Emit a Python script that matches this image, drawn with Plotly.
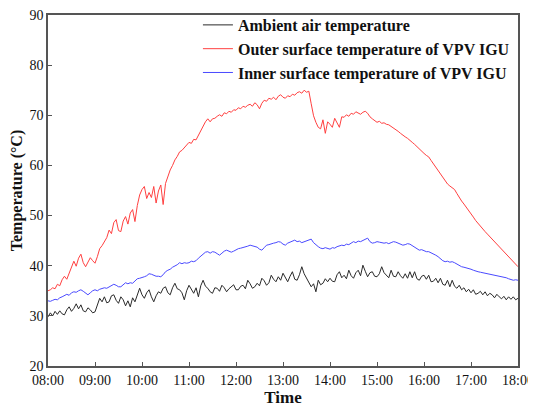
import plotly.graph_objects as go

# time in minutes after 08:00, every 3 minutes
minutes = list(range(0, 601, 3))
tick_minutes = [0, 60, 120, 180, 240, 300, 360, 420, 480, 540, 600]
tick_labels = ["08:00", "09:00", "10:00", "11:00", "12:00", "13:00",
               "14:00", "15:00", "16:00", "17:00", "18:00"]
y_ticks = [20, 30, 40, 50, 60, 70, 80, 90]

ambient = [
    29.8, 30.6, 30.0, 30.9, 30.3, 31.0, 30.4, 30.2, 31.2, 31.8,
    30.9, 31.5, 32.4, 31.4, 32.2, 31.0, 30.8, 31.6, 31.2, 30.6,
    30.8, 32.2, 33.5, 32.8, 33.8, 32.6, 32.8, 34.0, 34.2, 33.1,
    32.5, 33.8, 33.2, 32.0, 33.0, 31.8, 33.6, 32.8, 34.4, 35.5,
    34.2, 33.5, 34.6, 35.2, 33.8, 32.8, 34.0, 34.8, 34.5, 35.5,
    35.8, 34.6, 34.2, 35.6, 36.5, 35.4, 35.2, 34.6, 33.2, 35.0,
    36.1, 35.3, 34.5, 35.6, 33.8, 36.0, 37.1, 35.9, 35.5, 34.8,
    34.5, 35.6, 35.5, 34.9, 36.1, 35.6, 34.8, 35.4, 35.8, 36.2,
    35.2, 35.2, 35.9, 36.1, 35.4, 37.1, 36.4, 35.5, 35.8, 36.5,
    36.0, 37.5, 37.0, 36.1, 36.6, 38.1, 37.3, 36.8, 37.8, 37.1,
    38.5, 37.6, 36.8, 37.9, 38.8, 37.3, 37.1, 38.2, 39.8, 38.4,
    37.5, 36.9, 35.8, 36.4, 34.8, 37.1, 36.2, 36.5, 37.4, 36.8,
    37.5, 36.9, 36.8, 38.2, 38.8, 37.6, 38.1, 37.4, 39.1, 38.0,
    37.5, 38.6, 39.1, 38.0, 40.1, 38.9, 37.8, 38.6, 38.8, 37.9,
    37.8, 38.4, 39.8, 38.6, 38.1, 37.6, 39.1, 37.9, 37.8, 38.8,
    38.0, 37.5, 38.4, 37.5, 38.8, 37.6, 38.8, 37.4, 37.1, 37.9,
    38.1, 37.3, 38.1, 36.8, 36.9, 37.5, 36.6, 37.5, 36.3, 36.1,
    37.1, 35.8, 37.1, 35.9, 35.5, 36.1, 35.2, 35.6, 34.8, 35.3,
    34.6, 35.2, 34.3, 34.5, 34.9, 34.2, 34.8, 34.0, 34.5, 34.2,
    33.6, 34.3, 33.8, 33.4, 33.9, 33.2, 33.8, 33.3, 33.8, 33.2,
    33.5,
]

outer = [
    35.0, 35.2, 35.6, 35.4, 36.3, 36.0, 37.2, 37.9, 37.3, 38.6,
    39.8, 40.9, 39.9, 41.5, 42.3, 40.6, 39.8, 40.7, 41.6, 41.0,
    40.5, 41.8, 43.4, 44.0, 44.9, 45.6, 47.1, 46.4, 48.6, 49.2,
    47.0, 46.8, 48.9, 49.8, 48.3, 50.5, 51.2, 48.8, 52.0, 54.1,
    55.2, 55.8, 53.4, 54.6, 53.6, 55.8, 52.5, 54.9, 56.1, 52.2,
    56.4, 57.8, 59.1, 60.0, 61.1, 61.8, 62.7, 63.0, 63.5, 64.0,
    64.6, 64.4, 65.2, 65.1, 66.0, 66.9, 68.0, 68.7, 69.3, 68.7,
    69.3, 69.4, 69.8, 70.1, 69.8, 70.5, 70.3, 70.8, 70.6, 71.1,
    71.0, 71.5, 71.3, 71.8, 71.6, 72.0, 72.2, 71.8, 72.5, 72.1,
    71.3, 72.4, 73.0, 72.8, 73.4, 73.2, 73.6, 73.1, 73.8, 74.1,
    73.6, 73.4, 73.9, 73.7, 74.2, 74.0, 74.5, 74.7, 74.4, 75.0,
    74.6, 74.8, 72.3, 69.9, 68.6, 67.6, 67.3, 69.1, 66.4, 68.7,
    68.2, 67.6, 69.4, 68.4, 67.6, 69.7, 69.6, 70.1, 69.8, 70.4,
    70.2, 70.7, 70.5, 70.2, 70.6, 70.8, 70.4, 69.7, 69.3, 68.9,
    68.6, 68.8, 68.4, 68.5, 68.2, 68.1, 67.8, 67.5, 67.2, 66.8,
    66.4, 66.0, 65.7, 65.4, 64.9, 64.6, 64.2, 63.7, 63.2, 62.9,
    62.4, 62.0, 61.7, 61.0, 60.3, 59.6, 58.9, 58.2, 57.6, 57.0,
    56.3, 55.9, 55.6, 55.2, 54.4, 53.5, 52.9, 52.3, 51.7, 51.1,
    50.4, 49.7, 49.0, 48.4, 47.9, 47.3, 46.8, 46.3, 45.8, 45.3,
    44.8, 44.2, 43.6, 43.1, 42.6, 42.2, 41.8, 41.3, 40.8, 40.3,
    39.8,
]

inner = [
    33.0, 32.9, 33.1, 33.3, 33.2, 33.6, 33.8, 34.0, 34.3, 34.1,
    34.6, 34.8, 34.7, 35.0, 35.2, 34.9, 34.5, 34.2, 34.6, 35.0,
    35.2, 35.0, 35.3, 35.4, 35.6, 35.5, 35.8, 36.0, 36.3, 36.1,
    35.8, 35.8, 36.3, 36.6, 36.4, 36.6, 36.5, 37.0, 37.4, 37.5,
    37.6, 37.8, 38.0, 38.4, 38.3, 38.1, 37.9, 37.9, 37.8, 38.2,
    38.8, 39.1, 39.3, 39.7, 39.9, 40.2, 40.6, 40.4, 40.6, 40.5,
    40.6, 40.9, 40.8, 41.0, 41.5, 41.9, 42.3, 42.7, 42.8, 42.5,
    42.8, 42.7, 42.4, 42.1, 42.5, 42.9, 43.1, 42.9, 42.7, 42.9,
    43.2, 43.4, 43.5, 43.6, 43.8, 43.9, 44.1, 44.0, 43.8, 43.7,
    43.3, 43.1, 43.6, 44.1, 44.2, 44.4, 44.5, 44.6, 44.8, 44.7,
    44.3, 44.1, 44.5, 44.7, 44.9, 45.1, 44.8, 44.9, 44.6, 44.8,
    45.0, 45.2, 45.3, 44.6, 44.1, 43.8, 43.5, 43.4, 43.6, 43.5,
    43.3, 43.6, 43.5, 43.8, 44.0, 44.1, 44.0, 44.3, 44.2, 44.5,
    44.8, 44.6, 44.9, 44.8, 45.0, 45.3, 45.5, 44.8, 44.5, 44.6,
    44.8, 44.7, 44.6, 44.5, 44.6, 44.4, 44.6, 44.8, 44.7, 44.5,
    44.3, 44.1, 44.2, 44.4, 44.3, 44.0, 43.6, 43.3, 43.1, 43.2,
    43.0, 42.8, 42.8, 42.6, 42.4, 42.1, 41.8, 41.4, 41.0, 40.8,
    40.9, 40.7, 40.8, 40.6, 40.3, 40.0, 39.8, 39.7, 39.6, 39.5,
    39.3, 39.1, 38.9, 38.8, 38.7, 38.6, 38.5, 38.5, 38.3, 38.2,
    38.1, 38.1, 37.9, 37.8, 37.8, 37.6, 37.4, 37.2, 37.1, 37.2,
    37.1,
]

series_names = ["Ambient air temperature",
                "Outer surface temperature of VPV IGU",
                "Inner surface temperature of VPV IGU"]
series_colors = ["#2a2a2a", "#ff4040", "#4a4aff"]

fig = go.Figure()
for name, vals, col in zip(series_names, [ambient, outer, inner], series_colors):
    fig.add_trace(go.Scatter(x=minutes, y=vals, mode="lines",
                             name="<b>" + name + "</b>",
                             line=dict(color=col, width=1)))

font_family = "Liberation Serif, Times New Roman, serif"
axis_common = dict(
    showline=True, linecolor="#555555", linewidth=1.5, mirror=True,
    ticks="inside", ticklen=4, tickwidth=1.2, tickcolor="#555555",
    showgrid=False, zeroline=False, automargin=False,
    ticklabeloverflow="allow",
    tickfont=dict(family=font_family, size=14, color="#111111"),
    tickprefix="<b>", ticksuffix="</b>",
)

# The page body adds an 8px offset, so the figure is 528x400 placed at (8, 8)
fig.update_layout(
    width=528, height=400,
    margin=dict(l=40, r=18, t=7, b=42, autoexpand=False),
    paper_bgcolor="white", plot_bgcolor="white",
    font=dict(family=font_family, color="#111111"),
    showlegend=True,
    legend=dict(x=0.319, y=1.02, xanchor="left", yanchor="top",
                bgcolor="rgba(0,0,0,0)", borderwidth=0,
                font=dict(family=font_family, size=16, color="#111111"),
                tracegroupgap=0),
    xaxis=dict(range=[0, 600], tickvals=tick_minutes, ticktext=tick_labels,
               ticklabelstandoff=0,
               title=dict(text="<b>Time</b>",
                          font=dict(family=font_family, size=17), standoff=5),
               **axis_common),
    yaxis=dict(range=[20, 90], tickvals=y_ticks,
               title=dict(text="<b>Temperature (°C)</b>",
                          font=dict(family=font_family, size=16), standoff=4),
               **axis_common),
)

fig.write_html("out.html")
